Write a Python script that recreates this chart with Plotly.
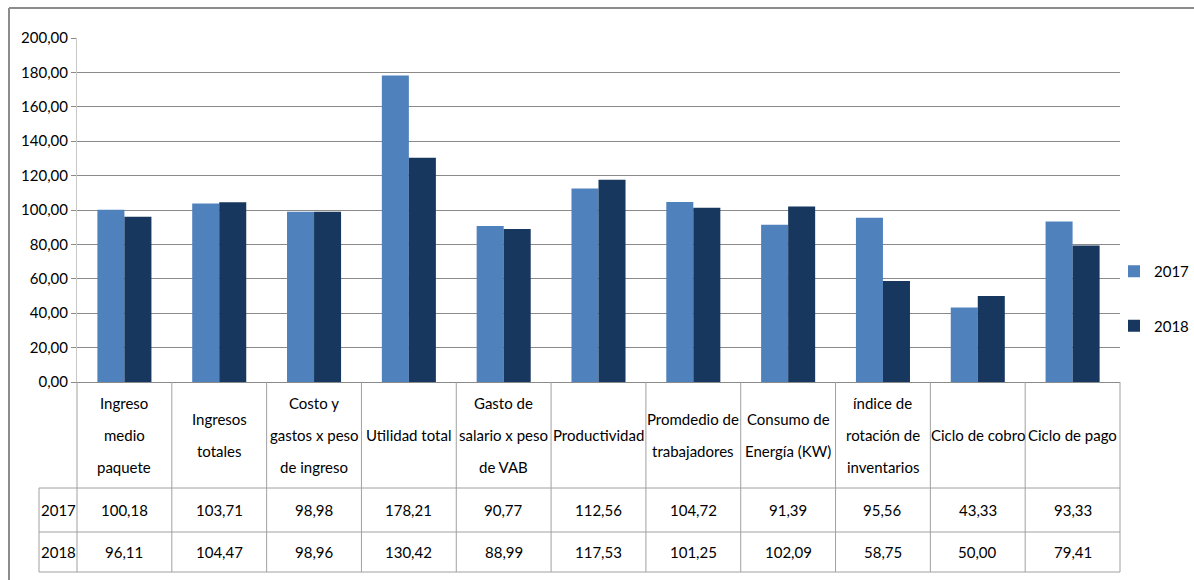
import plotly.graph_objects as go

categories = [
    "Ingreso\nmedio\npaquete",
    "Ingresos\ntotales",
    "Costo y\ngastos x peso\nde ingreso",
    "Utilidad total",
    "Gasto de\nsalario x peso\nde VAB",
    "Productividad",
    "Promdedio de\ntrabajadores",
    "Consumo de\nEnergía (KW)",
    "índice de\nrotación de\ninventarios",
    "Ciclo de cobro",
    "Ciclo de pago",
]
series_names = ["2017", "2018"]
values_2017 = [100.18, 103.71, 98.98, 178.21, 90.77, 112.56, 104.72, 91.39, 95.56, 43.33, 93.33]
values_2018 = [96.11, 104.47, 98.96, 130.42, 88.99, 117.53, 101.25, 102.09, 58.75, 50.00, 79.41]
colors = ["#4F81BD", "#17375E"]

W, H = 1194, 580
L, R, T, B = 77, 74, 38, 198
PW, PH = W - L - R, H - T - B
FONT = "Lato, Carlito, Liberation Sans, sans-serif"
FS = 15


def py(p):  # pixel row -> paper y
    return (H - B - p) / PH


def px(p):  # pixel column -> paper / domain x
    return (p - L) / PW


def fmt(v):
    return f"{v:.2f}".replace(".", ",")


x_idx = list(range(len(categories)))
fig = go.Figure()
for name, vals, col in zip(series_names, [values_2017, values_2018], colors):
    fig.add_trace(go.Bar(x=x_idx, y=vals, name=name, marker_color=col,
                         marker_line_width=0, legendgroup=name))

shapes = []
annotations = []
line_col = "#a0a0a0"
# table vertical lines
for i in range(len(categories) + 1):
    if i == 0 or i == len(categories):
        shapes.append(dict(type="line", xref="x domain", yref="paper",
                           x0=i / len(categories), x1=i / len(categories),
                           y0=0, y1=py(572), line=dict(color=line_col, width=1)))
    else:
        shapes.append(dict(type="line", xref="x", yref="paper", x0=i - 0.5, x1=i - 0.5,
                           y0=0, y1=py(572), line=dict(color=line_col, width=1)))
# year column left border
shapes.append(dict(type="line", xref="x domain", yref="paper", x0=px(39), x1=px(39),
                   y0=py(488), y1=py(572), line=dict(color=line_col, width=1)))
# horizontal table lines
for yy in [488, 532, 572]:
    shapes.append(dict(type="line", xref="x domain", yref="paper", x0=px(39), x1=1,
                       y0=py(yy), y1=py(yy), line=dict(color=line_col, width=1)))
# outer border (top + left)
shapes.append(dict(type="line", xref="paper", yref="paper", x0=px(9), x1=px(1194),
                   y0=py(8), y1=py(8), line=dict(color="#8c8c8c", width=2)))
shapes.append(dict(type="line", xref="paper", yref="paper", x0=px(9), x1=px(9),
                   y0=py(8), y1=py(580), line=dict(color="#8c8c8c", width=2)))

# header text
for i, cat in enumerate(categories):
    lines = cat.split("\n")
    n = len(lines)
    for k, ln in enumerate(lines):
        yc = 435 + (k - (n - 1) / 2) * 32
        annotations.append(dict(x=i, y=py(yc), xref="x", yref="paper", text=ln,
                                showarrow=False, xanchor="center", yanchor="middle",
                                font=dict(family=FONT, size=FS, color="black")))
# data rows
for name, vals, yc in zip(series_names, [values_2017, values_2018], [510, 552]):
    annotations.append(dict(x=px(58), y=py(yc), xref="x domain", yref="paper", text=name,
                            showarrow=False, xanchor="center", yanchor="middle",
                            font=dict(family=FONT, size=FS, color="black")))
    for i, v in enumerate(vals):
        annotations.append(dict(x=i, y=py(yc), xref="x", yref="paper", text=fmt(v),
                                showarrow=False, xanchor="center", yanchor="middle",
                                font=dict(family=FONT, size=FS, color="black")))

fig.update_layout(
    width=W, height=H,
    margin=dict(l=L, r=R, t=T, b=B, pad=0, autoexpand=False),
    paper_bgcolor="white", plot_bgcolor="white",
    separators=",.",
    font=dict(family=FONT, size=FS, color="black"),
    barmode="group", bargap=0.43, bargroupgap=0,
    showlegend=True,
    legend=dict(x=px(1114), xanchor="left", y=py(255), yanchor="top",
                font=dict(family=FONT, size=FS, color="black"),
                itemwidth=30, tracegroupgap=32, bgcolor="rgba(0,0,0,0)"),
    shapes=shapes,
    annotations=annotations,
    xaxis=dict(range=[-0.5, len(categories) - 0.5], showticklabels=False, ticks="",
               showgrid=False, zeroline=False, showline=True, linecolor="#8a8a8a",
               linewidth=1, fixedrange=True),
    yaxis=dict(range=[0, 200], dtick=20, tickformat=".2f", ticks="outside", ticklen=5,
               tickcolor="#8a8a8a", showgrid=True, gridcolor="#8a8a8a", gridwidth=1,
               zeroline=False, showline=True, linecolor="#c8c8c8", linewidth=1,
               tickfont=dict(family=FONT, size=FS, color="black"), fixedrange=True),
)

fig.write_html("out.html")
